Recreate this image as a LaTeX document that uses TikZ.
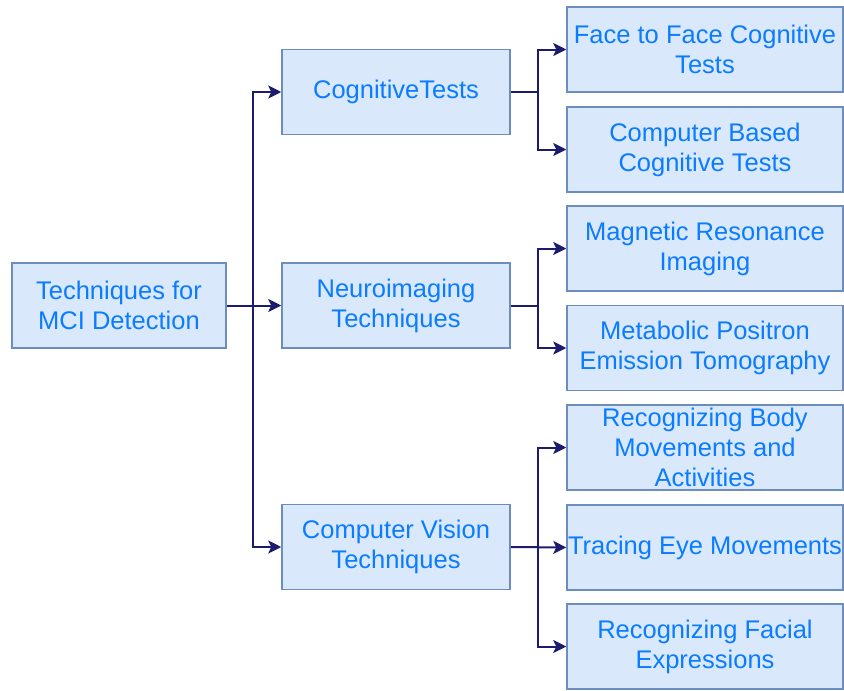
\documentclass[tikz,border=0pt]{standalone}
\usepackage{fontspec}
\setmainfont{Liberation Sans}
\usetikzlibrary{arrows.meta}
\definecolor{boxfill}{HTML}{DAE8FC}
\definecolor{boxline}{HTML}{6C8EBF}
\definecolor{txt}{HTML}{0A7CFF}
\definecolor{wire}{HTML}{1C1C6E}
\begin{document}
\begin{tikzpicture}[x=1pt,y=-1pt,
  box/.style={draw=boxline,fill=boxfill,line width=1.5pt,text=txt,align=center,
    inner sep=0pt,font=\fontsize{25.5}{30}\selectfont,minimum height=85pt},
  rootbox/.style={box,minimum width=214pt},
  midbox/.style={box,minimum width=228pt},
  leafbox/.style={box,minimum width=276pt},
  wirestyle/.style={draw=wire,line width=2pt},
  arr/.style={wirestyle,-{Stealth[length=13pt,width=13pt,inset=3pt]}}]
\useasboundingbox (0,0) rectangle (844,691);
\node[rootbox] (root) at (119,305.5) {Techniques for\\MCI Detection};
\node[midbox] (cog) at (396,92) {CognitiveTests};
\node[midbox] (neuro) at (396,305.5) {Neuroimaging\\Techniques};
\node[midbox] (cv) at (396,547) {Computer Vision\\Techniques};
\node[leafbox] (f2f) at (705,49.5) {Face to Face Cognitive\\Tests};
\node[leafbox] (cbt) at (705,149.5) {Computer Based\\Cognitive Tests};
\node[leafbox] (mri) at (705,248.5) {Magnetic Resonance\\Imaging};
\node[leafbox] (pet) at (705,348) {Metabolic Positron\\Emission Tomography};
\node[leafbox] (body) at (705,447.5) {Recognizing Body\\Movements and\\Activities};
\node[leafbox] (eye) at (705,547.5) {Tracing Eye Movements};
\node[leafbox] (face) at (705,646.5) {Recognizing Facial\\Expressions};
\coordinate (j0) at (253,305.5);
\coordinate (j1) at (538,92);
\coordinate (j2) at (538,305.5);
\coordinate (j3) at (538,547);
\draw[arr] (root.east) -- (neuro.west);
\draw[arr] (j0) |- (cog.west);
\draw[arr] (j0) |- (cv.west);
\draw[wirestyle] (cog.east) -- (j1);
\draw[arr] (j1) |- (f2f.west);
\draw[arr] (j1) |- (cbt.west);
\draw[wirestyle] (neuro.east) -- (j2);
\draw[arr] (j2) |- (mri.west);
\draw[arr] (j2) |- (pet.west);
\draw[arr] (cv.east) -- (eye.west);
\draw[arr] (j3) |- (body.west);
\draw[arr] (j3) |- (face.west);
\end{tikzpicture}
\end{document}
